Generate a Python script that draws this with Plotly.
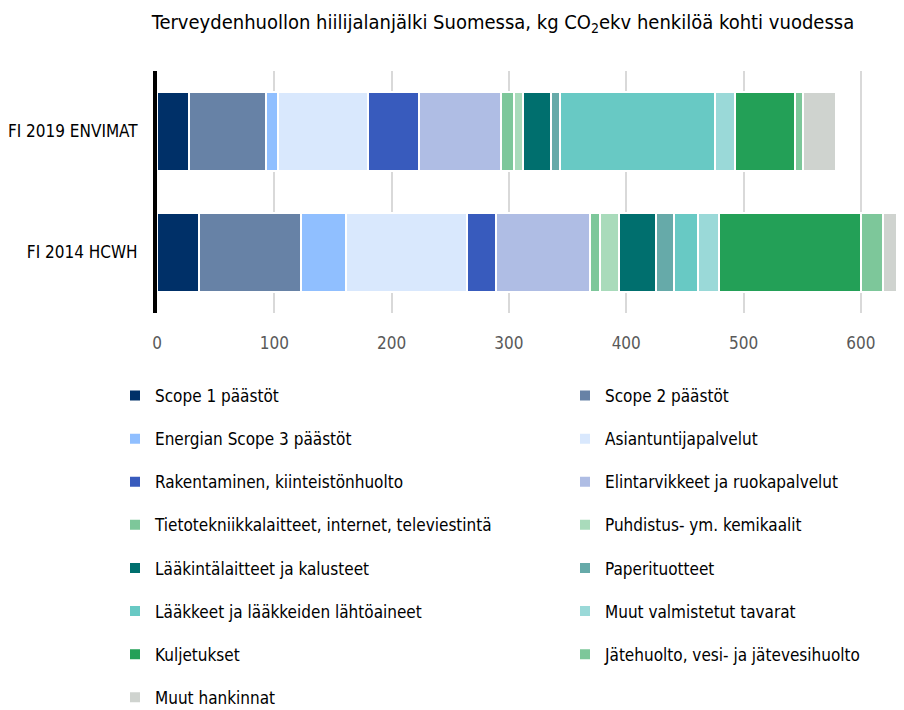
import plotly.graph_objects as go

categories = ["FI 2019 ENVIMAT", "FI 2014 HCWH"]

series_names = [
    "Scope 1 päästöt",
    "Scope 2 päästöt",
    "Energian Scope 3 päästöt",
    "Asiantuntijapalvelut",
    "Rakentaminen, kiinteistönhuolto",
    "Elintarvikkeet ja ruokapalvelut",
    "Tietotekniikkalaitteet, internet, televiestintä",
    "Puhdistus- ym. kemikaalit",
    "Lääkintälaitteet ja kalusteet",
    "Paperituotteet",
    "Lääkkeet ja lääkkeiden lähtöaineet",
    "Muut valmistetut tavarat",
    "Kuljetukset",
    "Jätehuolto, vesi- ja jätevesihuolto",
    "Muut hankinnat",
]

# values per series: [ENVIMAT 2019, HCWH 2014]
values_envimat = [27, 66, 10, 77, 43.5, 70, 11, 7.5, 24, 7.5, 132, 17, 51, 7, 28]
values_hcwh = [36, 87, 38.5, 103, 24.5, 80.5, 8.5, 15.5, 32, 15, 21, 17.5, 121, 19, 25]

colors = [
    "#003068", "#6782a6", "#90bfff", "#d9e8fd", "#385bbd",
    "#afbde4", "#7dc79a", "#a9dbbb", "#006f6e", "#66aaa9",
    "#68c9c4", "#9ad9d8", "#23a057", "#7dc79a", "#cfd3cf",
]

x_ticks = [0, 100, 200, 300, 400, 500, 600]

FONT = "DejaVu Sans Condensed, Liberation Sans Narrow, sans-serif"

# the page body has an 8px default margin, so the figure is 896x702
W, H = 896, 702

fig = go.Figure()
for i, name in enumerate(series_names):
    fig.add_trace(go.Bar(
        y=categories,
        x=[values_envimat[i], values_hcwh[i]],
        name=name,
        orientation="h",
        marker=dict(color=colors[i], line=dict(color="white", width=2)),
        legend="legend" if i % 2 == 0 else "legend2",
        legendgroup="g%d" % i,
        hoverinfo="x+name",
    ))

legend_common = dict(
    orientation="v",
    xref="container", yref="container",
    xanchor="left", yanchor="top",
    font=dict(family=FONT, size=17, color="#000000"),
    tracegroupgap=18,
    bgcolor="rgba(0,0,0,0)",
    traceorder="grouped",
)

fig.update_layout(
    width=W, height=H,
    paper_bgcolor="white", plot_bgcolor="white",
    barmode="stack",
    bargap=0.355,
    margin=dict(l=149, r=0, t=63, b=397, autoexpand=False),
    title=dict(
        text="Terveydenhuollon hiilijalanjälki Suomessa, kg CO<sub>2</sub>ekv henkilöä kohti vuodessa",
        x=495 / W, xanchor="center", xref="container",
        y=1 - 14 / H, yanchor="middle", yref="container",
        font=dict(family=FONT, size=20, color="#000000"),
    ),
    xaxis=dict(
        range=[0, 636.8],
        tickvals=x_ticks,
        showgrid=True, gridcolor="#d9d9d9", gridwidth=2,
        zeroline=False, showline=False,
        ticks="",
        ticklabelstandoff=18,
        tickangle=0,
        tickfont=dict(family=FONT, size=17, color="#595959"),
        fixedrange=True,
    ),
    yaxis=dict(
        autorange="reversed",
        showline=True, linecolor="#000000", linewidth=4,
        showgrid=False, zeroline=False,
        ticks="",
        ticklabelstandoff=12,
        tickfont=dict(family=FONT, size=17, color="#000000"),
    ),
    legend=dict(x=107 / W, y=1 - 370 / H, **legend_common),
    legend2=dict(x=557 / W, y=1 - 370 / H, **legend_common),
    showlegend=True,
)

fig.write_html("out.html")
